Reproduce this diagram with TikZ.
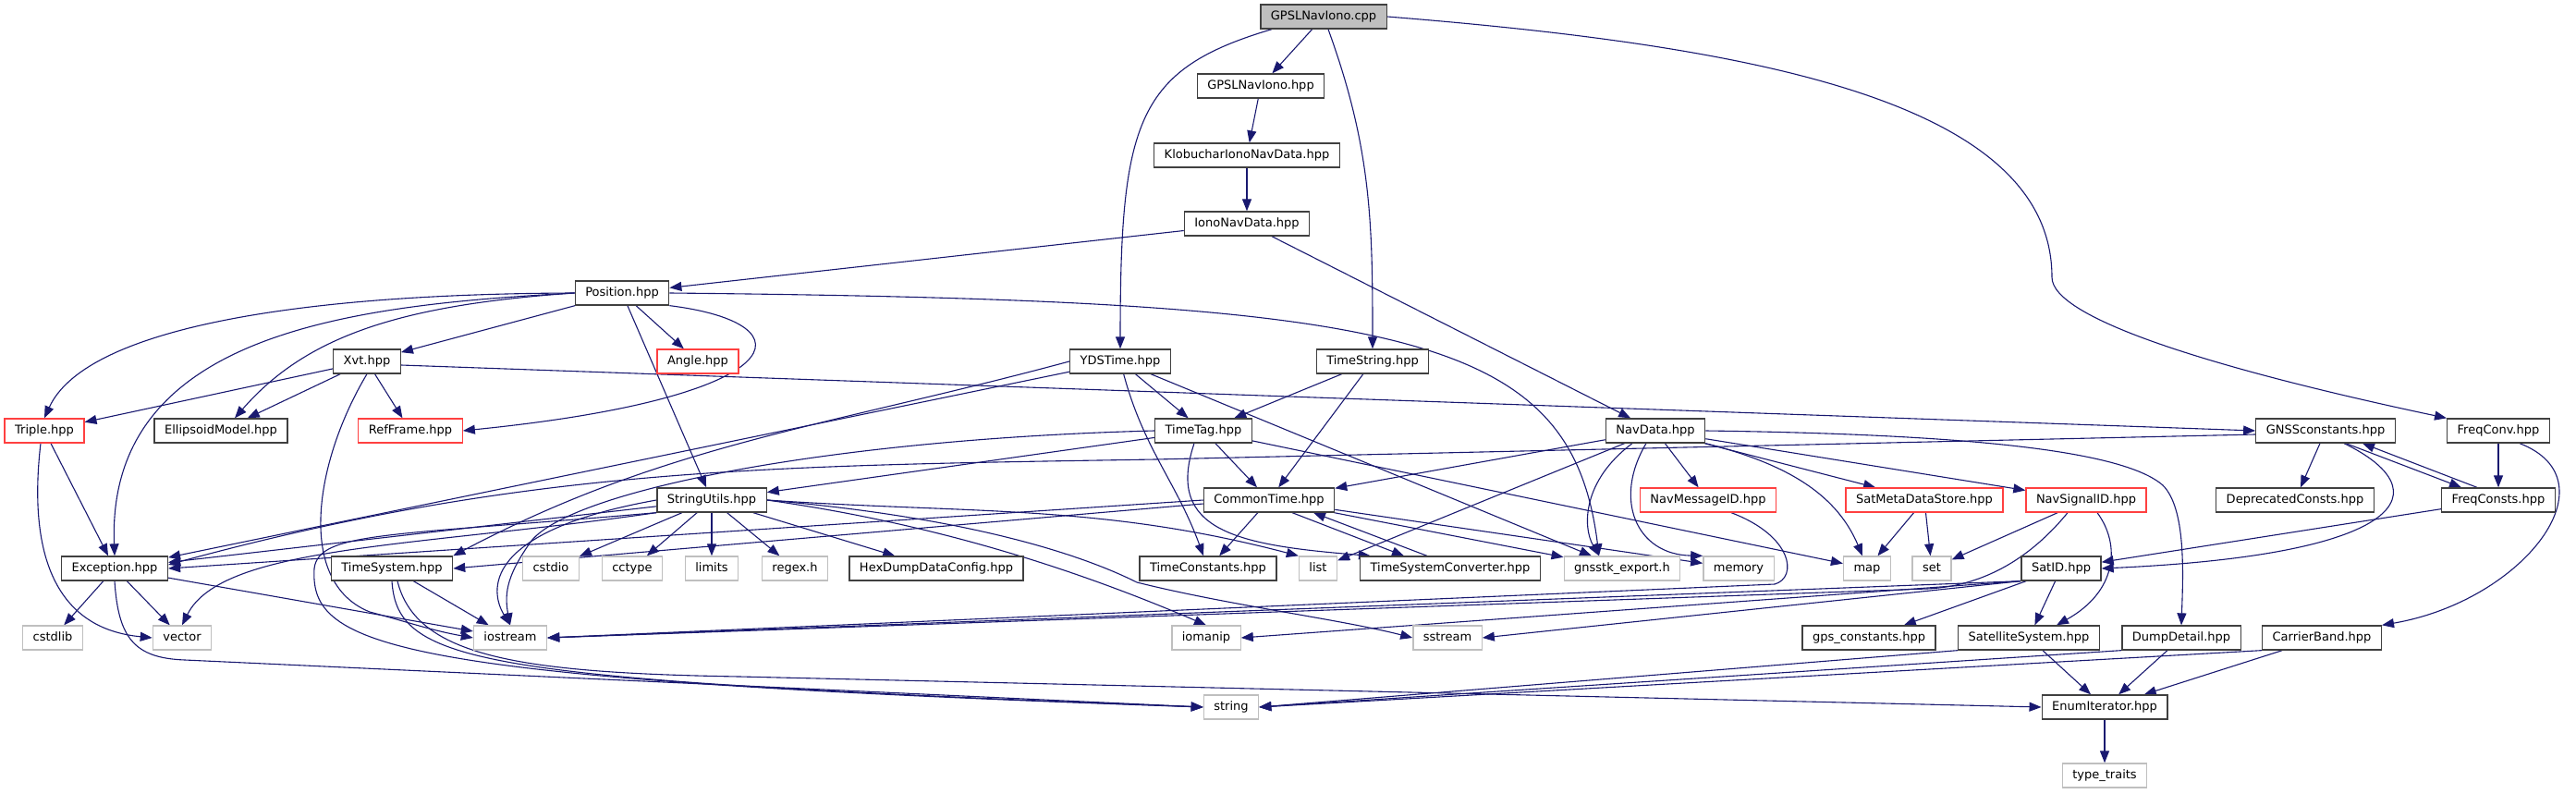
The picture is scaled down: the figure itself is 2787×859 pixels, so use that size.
\documentclass[tikz,border=0pt]{standalone}
\usepackage{fontspec}
\setmainfont{DejaVu Sans}
\usepackage{xcolor}
\usetikzlibrary{arrows.meta,backgrounds}
\definecolor{edgeblue}{RGB}{25,25,112}
\definecolor{boxline}{RGB}{64,64,64}
\definecolor{sysline}{RGB}{191,191,191}
\definecolor{truncline}{RGB}{255,64,64}
\definecolor{rootfill}{RGB}{191,191,191}

\begin{document}
\begin{tikzpicture}[x=1pt, y=1pt,
		hdr/.style={draw=boxline, line width=1.3pt, fill=white, inner xsep=11pt, minimum height=26pt,
			text height=9.6pt, text depth=2.7pt, font=\fontsize{13}{15}\selectfont},
		sysh/.style={hdr, draw=sysline},
		trunc/.style={hdr, draw=truncline},
		root/.style={hdr, fill=rootfill},
		dep/.style={draw=edgeblue, line width=1.1pt, -{Triangle[length=13pt,width=10pt]}}]
	\useasboundingbox (0,0) rectangle (2787,-859);

	\node[root]  (cpp)         at (1432,-18)  {GPSLNavIono.cpp};
	\node[hdr]   (navionoh)    at (1364,-93)  {GPSLNavIono.hpp};
	\node[hdr]   (klob)        at (1349,-168) {KlobucharIonoNavData.hpp};
	\node[hdr]   (iono)        at (1349,-242) {IonoNavData.hpp};
	\node[hdr]   (position)    at (673,-317)  {Position.hpp};

	\node[hdr]   (xvt)         at (397,-391)  {Xvt.hpp};
	\node[trunc] (angle)       at (755,-391)  {Angle.hpp};
	\node[hdr]   (ydstime)     at (1212,-391) {YDSTime.hpp};
	\node[hdr]   (timestr)     at (1485,-391) {TimeString.hpp};

	\node[trunc] (triple)      at (48,-466)   {Triple.hpp};
	\node[hdr]   (ellipsoid)   at (239,-466)  {EllipsoidModel.hpp};
	\node[trunc] (refframe)    at (444,-466)  {RefFrame.hpp};
	\node[hdr]   (timetag)     at (1302,-466) {TimeTag.hpp};
	\node[hdr]   (navdata)     at (1791,-466) {NavData.hpp};
	\node[hdr]   (gnssconst)   at (2516,-466) {GNSSconstants.hpp};
	\node[hdr]   (freqconv)    at (2703,-466) {FreqConv.hpp};

	\node[hdr]   (strutils)    at (770,-541)  {StringUtils.hpp};
	\node[hdr]   (commontime)  at (1373,-541) {CommonTime.hpp};
	\node[trunc] (navmsgid)    at (1848,-541) {NavMessageID.hpp};
	\node[trunc] (satmeta)     at (2082,-541) {SatMetaDataStore.hpp};
	\node[trunc] (navsigid)    at (2257,-541) {NavSignalID.hpp};
	\node[hdr]   (deprecated)  at (2483,-541) {DeprecatedConsts.hpp};
	\node[hdr]   (freqconsts)  at (2703,-541) {FreqConsts.hpp};

	\node[hdr]   (exception)   at (124,-615)  {Exception.hpp};
	\node[hdr]   (timesys)     at (424,-615)  {TimeSystem.hpp};
	\node[sysh]  (cstdio)      at (596,-615)  {cstdio};
	\node[sysh]  (cctype)      at (684,-615)  {cctype};
	\node[sysh]  (limits)      at (770,-615)  {limits};
	\node[sysh]  (regex)       at (860,-615)  {regex.h};
	\node[hdr]   (hexdump)     at (1013,-615) {HexDumpDataConfig.hpp};
	\node[hdr]   (timeconst)   at (1307,-615) {TimeConstants.hpp};
	\node[sysh]  (list)        at (1426,-615) {list};
	\node[hdr]   (tsconv)      at (1569,-615) {TimeSystemConverter.hpp};
	\node[sysh]  (export)      at (1755,-615) {gnsstk\_export.h};
	\node[sysh]  (memory)      at (1881,-615) {memory};
	\node[sysh]  (map)         at (2020,-615) {map};
	\node[sysh]  (set)         at (2090,-615) {set};
	\node[hdr]   (satid)       at (2230,-615) {SatID.hpp};

	\node[sysh]  (cstdlib)     at (57,-690)   {cstdlib};
	\node[sysh]  (vector)      at (197,-690)  {vector};
	\node[sysh]  (iostream)    at (552,-690)  {iostream};
	\node[sysh]  (iomanip)     at (1305,-690) {iomanip};
	\node[sysh]  (sstream)     at (1566,-690) {sstream};
	\node[hdr]   (gpsconst)    at (2022,-690) {gps\_constants.hpp};
	\node[hdr]   (satsys)      at (2195,-690) {SatelliteSystem.hpp};
	\node[hdr]   (dumpdetail)  at (2360,-690) {DumpDetail.hpp};
	\node[hdr]   (carrierband) at (2512,-690) {CarrierBand.hpp};

	\node[sysh]  (string)      at (1332,-765) {string};
	\node[hdr]   (enumiter)    at (2277,-765) {EnumIterator.hpp};
	\node[sysh]  (typetraits)  at (2277,-839) {type\_traits};

	\begin{scope}[on background layer]
		\draw[dep] (cpp) -- (navionoh);
		\draw[dep] ([xshift=-56pt]cpp.south) .. controls (1230,-75) and (1212,-130) .. (ydstime.north);
		\draw[dep] (cpp) to[out=-70,in=90] (timestr);
		\draw[dep] (cpp.east) .. controls (1900,-50) and (2220,-110) .. (2220,-300)
			.. controls (2220,-345) and (2400,-400) .. (freqconv.north west);
		\draw[dep] (navionoh) -- (klob);
		\draw[dep] (klob) -- (iono);
		\draw[dep] (iono) -- (position);
		\draw[dep] (iono) -- (navdata);

		\draw[dep] (position.west) .. controls (300,-318) and (90,-360) .. (triple.north);
		\draw[dep] (position.west) .. controls (430,-330) and (330,-365) .. ([xshift=15pt]ellipsoid.north);
		\draw[dep] (position) -- (xvt);
		\draw[dep] (position.west) .. controls (380,-330) and (115,-360) .. (exception.north);
		\draw[dep] (position) -- (angle);
		\draw[dep] (position.south east) .. controls (880,-350) and (860,-430) .. (refframe.east);
		\draw[dep] (position) -- (strutils);
		\draw[dep] (position.east) .. controls (1520,-325) and (1700,-360) .. ([xshift=-25pt]export.north);

		\draw[dep] (xvt) -- (triple);
		\draw[dep] (xvt) -- (ellipsoid);
		\draw[dep] (xvt) -- (refframe);
		\draw[dep] ([yshift=-4pt]xvt.east) -- (gnssconst.west);
		\draw[dep] (xvt.south) .. controls (340,-500) and (320,-630) .. (400,-662)
			to[out=-15,in=170] (iostream.west);

		\draw[dep] (triple) -- (exception);
		\draw[dep] ([xshift=-4pt]triple.south) .. controls (30,-600) and (60,-680) .. (vector.west);

		\draw[dep] (ydstime) -- (timetag);
		\draw[dep] (ydstime) to[out=-75,in=110] (timeconst);
		\draw[dep] (ydstime) -- (export);
		\draw[dep] (ydstime) -- (exception);
		\draw[dep] (ydstime.west) .. controls (893,-462) and (720,-480) .. (timesys.north east);

		\draw[dep] (timestr) -- (timetag);
		\draw[dep] (timestr) -- (commontime);

		\draw[dep] (freqconv) -- (freqconsts);
		\draw[dep] ([xshift=-33pt]freqconv.south east) .. controls (2830,-520) and (2730,-650) .. (carrierband.north east);

		\draw[dep] (timetag) -- (commontime);
		\draw[dep] (timetag) -- (strutils);
		\draw[dep] (timetag.west) .. controls (900,-475) and (620,-530) .. (575,-585)
			.. controls (550,-620) and (545,-640) .. (iostream.north);
		\draw[dep] ([xshift=-10pt]timetag.south) .. controls (1260,-575) and (1340,-590) .. ([xshift=12pt]tsconv.north west);
		\draw[dep] (timetag) -- (map);

		\draw[dep] (commontime) -- (timeconst);
		\draw[dep] ([xshift=25pt]commontime.south) -- ([xshift=-50pt]tsconv.north);
		\draw[dep] ([xshift=-25pt]tsconv.north) -- ([xshift=48pt]commontime.south);
		\draw[dep] ([yshift=-4pt]commontime.west) -- (timesys.east);
		\draw[dep] (commontime.west) -- (exception.east);
		\draw[dep] (commontime) -- (export);
		\draw[dep] (commontime) -- (memory);

		\draw[dep] (navdata) -- (commontime);
		\draw[dep] (navdata) -- (navmsgid);
		\draw[dep] (navdata) -- (satmeta);
		\draw[dep] (navdata) -- (navsigid);
		\draw[dep] (navdata.east) .. controls (2150,-470) and (2300,-490) .. (2340,-525)
			.. controls (2365,-550) and (2362,-620) .. (dumpdetail.north);
		\draw[dep] (navdata.south east) .. controls (1925,-500) and (1985,-530) .. ([xshift=-5pt]map.north);
		\draw[dep] ([xshift=-10pt]navdata.south) .. controls (1745,-540) and (1770,-600) .. (memory.north west);
		\draw[dep] ([xshift=-25pt]navdata.south) .. controls (1712,-520) and (1712,-570) .. ([xshift=-25pt]export.north);
		\draw[dep] (navdata) -- (list);

		\draw[dep] ([xshift=25pt]navmsgid.south) .. controls (1940,-580) and (1945,-625) .. (1920,-632)
			-- (iostream.east);
		\draw[dep] (satmeta) -- (map);
		\draw[dep] (satmeta) -- (set);
		\draw[dep] (navsigid) -- (set);
		\draw[dep] ([xshift=12pt]navsigid.south) .. controls (2295,-590) and (2290,-640) .. ([xshift=30pt]satsys.north);
		\draw[dep] ([xshift=-20pt]navsigid.south) .. controls (2200,-600) and (2150,-634) .. (2085,-637)
			-- (iostream.east);

		\draw[dep] (satid) -- (satsys);
		\draw[dep] (satid) -- (gpsconst);
		\draw[dep] (satid.south west) -- (iostream.east);
		\draw[dep] (satid.south west) -- (iomanip.east);
		\draw[dep] (satid.south west) -- (sstream.east);

		\draw[dep] (satsys) -- (enumiter);
		\draw[dep] (satsys.south west) -- (string.east);
		\draw[dep] (dumpdetail) -- (enumiter);
		\draw[dep] (dumpdetail.south west) -- (string.east);
		\draw[dep] (carrierband) -- (enumiter);
		\draw[dep] (carrierband.south west) -- (string.east);
		\draw[dep] (enumiter) -- (typetraits);

		\draw[dep] (gnssconst) -- (deprecated);
		\draw[dep] ([xshift=22pt]gnssconst.south) -- ([xshift=-40pt]freqconsts.north);
		\draw[dep] ([xshift=-23pt]freqconsts.north) -- ([xshift=40pt]gnssconst.south);
		\draw[dep] ([xshift=20pt]gnssconst.south) .. controls (2640,-530) and (2610,-600) .. (satid.east);
		\draw[dep] ([yshift=-4pt]gnssconst.west) -- (1250,-497)
			.. controls (831,-504) and (572,-505) .. ([yshift=4pt]exception.east);
		\draw[dep] (freqconsts) -- (satid);

		\draw[dep] (strutils) -- (cstdio);
		\draw[dep] (strutils) -- (cctype);
		\draw[dep] (strutils) -- (limits);
		\draw[dep] (strutils) -- (regex);
		\draw[dep] (strutils) -- (hexdump);
		\draw[dep] (strutils) -- (exception);
		\draw[dep] (strutils.west) .. controls (520,-575) and (530,-640) .. (iostream.north);
		\draw[dep] (strutils.south west) .. controls (450,-592) and (240,-590) .. (vector.north);
		\draw[dep] (strutils.south west) .. controls (420,-580) and (345,-575) .. (340,-615)
			.. controls (335,-700) and (420,-735) .. (string.west);
		\draw[dep] (strutils.east) .. controls (1050,-556) and (1190,-545) .. (list.north west);
		\draw[dep] (strutils.east) .. controls (1000,-565) and (1150,-610) .. (iomanip.north);
		\draw[dep] (strutils.east) .. controls (1050,-560) and (1170,-600) .. (1230,-630)
			.. controls (1330,-655) and (1450,-670) .. (sstream.west);

		\draw[dep] (timesys) -- (iostream);
		\draw[dep] (timesys.south) .. controls (430,-720) and (520,-735) .. (string.west);
		\draw[dep] ([xshift=6pt]timesys.south) .. controls (450,-710) and (560,-728) .. (800,-732)
			-- (enumiter.west);

		\draw[dep] (exception) -- (cstdlib);
		\draw[dep] (exception) -- (vector);
		\draw[dep] (exception) -- (iostream);
		\draw[dep] (exception.south) .. controls (128,-690) and (145,-712) .. (200,-714) -- (string.west);
	\end{scope}
\end{tikzpicture}
\end{document}
